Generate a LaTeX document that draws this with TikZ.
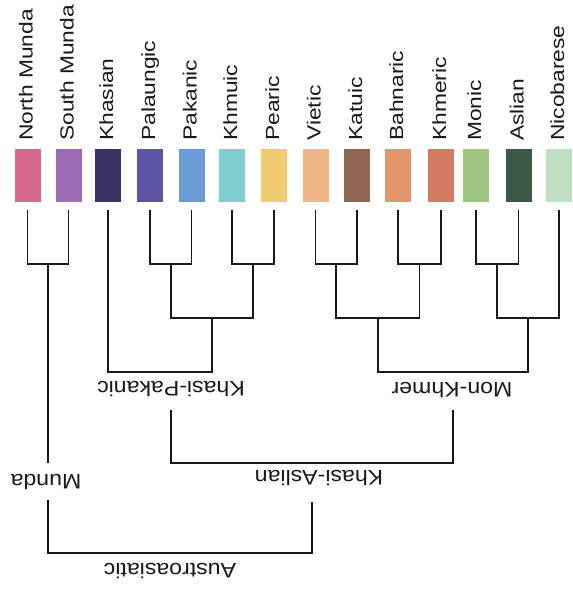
\documentclass[tikz,border=0pt]{standalone}
\usepackage{fontspec}
\setmainfont{Liberation Sans}
\usepackage{tikz}

\definecolor{cnm}{RGB}{214,104,142}
\definecolor{csm}{RGB}{156,106,182}
\definecolor{ckha}{RGB}{58,52,100}
\definecolor{cpal}{RGB}{94,84,166}
\definecolor{cpak}{RGB}{108,156,214}
\definecolor{ckhu}{RGB}{128,207,208}
\definecolor{cpea}{RGB}{241,203,112}
\definecolor{cvie}{RGB}{240,182,134}
\definecolor{ckat}{RGB}{142,102,82}
\definecolor{cbah}{RGB}{224,150,106}
\definecolor{ckhe}{RGB}{210,123,97}
\definecolor{cmon}{RGB}{158,197,128}
\definecolor{casl}{RGB}{62,90,70}
\definecolor{cnic}{RGB}{192,224,193}
\definecolor{ink}{RGB}{25,25,25}

\begin{document}
\begin{tikzpicture}[x=1pt,y=-1pt,
  branch/.style={draw=ink,line width=1.8pt},
  swatch/.style={minimum width=26pt,minimum height=53pt,inner sep=0pt},
  langlbl/.style={rotate=90,xscale=1.2,anchor=base west,inner sep=0pt,text=ink,
    font=\fontsize{19}{21}\selectfont},
  grplbl/.style={rotate=180,xscale=1.1,inner sep=0pt,text=ink,
    font=\fontsize{21}{23}\selectfont}]
\useasboundingbox (0,0) rectangle (572,593);

% swatches, names and the top of each leaf
\foreach \x/\n/\lang in {27.5/nm/North Munda,68.5/sm/South Munda,108/kha/Khasian,
  150/pal/Palaungic,191.5/pak/Pakanic,232/khu/Khmuic,274/pea/Pearic,
  315.5/vie/Vietic,357/kat/Katuic,398/bah/Bahnaric,441/khe/Khmeric,
  476/mon/Monic,518.5/asl/Aslian,559/nic/Nicobarese}{
  \node[swatch,fill=c\n] (\n) at (\x,175.5) {};
  \node[langlbl] (\n-lbl) at (\x+5,141) {\lang};
  \coordinate (\n-top) at (\x,210);
}

\coordinate (munda) at (48,264);
\coordinate (palpak) at (170.75,264);
\coordinate (khupea) at (253,264);
\coordinate (vk) at (336,264);
\coordinate (bk) at (419.5,264);
\coordinate (ma) at (497,264);
\coordinate (pp) at (212,318);
\coordinate (vkbk) at (378,318);
\coordinate (man) at (528,318);
\coordinate (kp) at (171,372);
\coordinate (mk) at (453,372);
\coordinate (kp-low) at (171,410);
\coordinate (mk-low) at (453,410);
\coordinate (munda-mid) at (48,463);
\coordinate (ka) at (312,463);
\coordinate (munda-low) at (48,500);
\coordinate (ka-low) at (312,502);
\coordinate (aa) at (180,553);

\draw[branch] (nm-top) |- (munda) -| (sm-top);
\draw[branch] (pal-top) |- (palpak) -| (pak-top);
\draw[branch] (khu-top) |- (khupea) -| (pea-top);
\draw[branch] (vie-top) |- (vk) -| (kat-top);
\draw[branch] (bah-top) |- (bk) -| (khe-top);
\draw[branch] (mon-top) |- (ma) -| (asl-top);
\draw[branch] (palpak) |- (pp) -| (khupea);
\draw[branch] (vk) |- (vkbk) -| (bk);
\draw[branch] (ma) |- (man) -| (nic-top);
\draw[branch] (kha-top) |- (kp) -| (pp);
\draw[branch] (vkbk) |- (mk) -| (man);
\draw[branch] (munda) -- (munda-mid);
\draw[branch] (kp-low) |- (ka) -| (mk-low);
\draw[branch] (munda-low) |- (aa) -| (ka-low);

\node[grplbl] (kp-lbl) at (171,389) {Khasi-Pakanic};
\node[grplbl] (mk-lbl) at (452,390) {Mon-Khmer};
\node[grplbl] (munda-lbl) at (46,482) {Munda};
\node[grplbl] (ka-lbl) at (319,478) {Khasi-Aslian};
\node[grplbl] (aa-lbl) at (170,571) {Austroasiatic};
\end{tikzpicture}
\end{document}
